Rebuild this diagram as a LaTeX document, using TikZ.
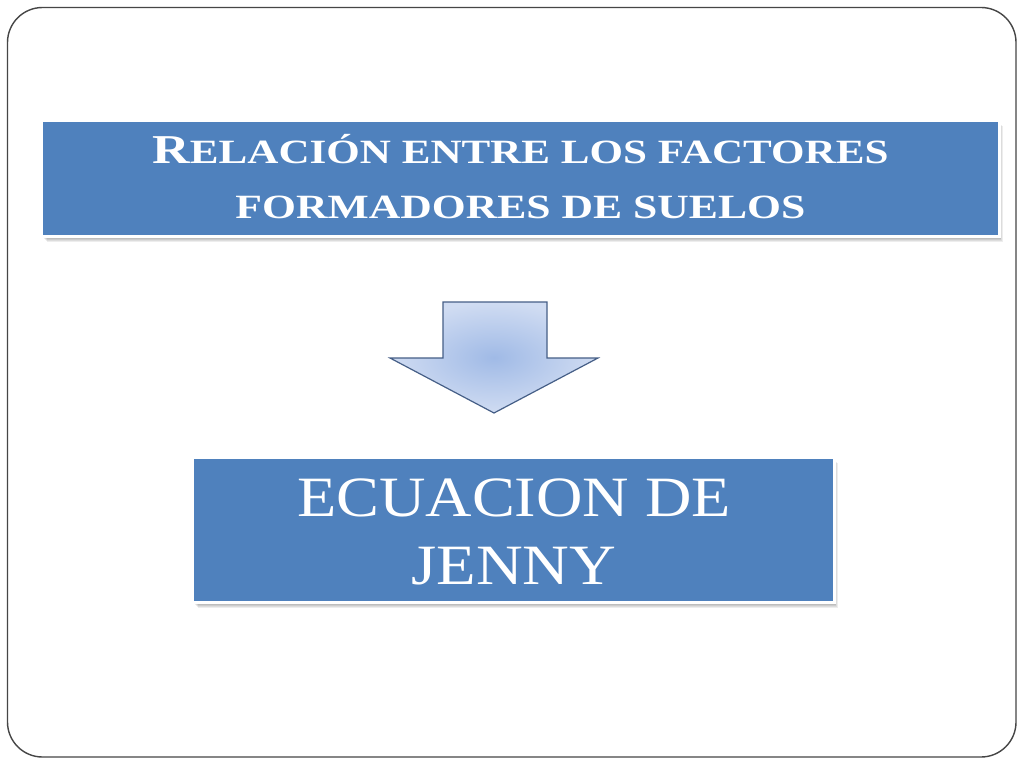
\documentclass[tikz,border=0pt]{standalone}
\usepackage{fontspec}
\setmainfont{Liberation Serif}
\usepackage{graphicx}
\definecolor{boxblue}{RGB}{79,129,189}
\definecolor{framegray}{RGB}{70,70,70}
\definecolor{arrowline}{RGB}{70,95,135}
\definecolor{arrowin}{RGB}{160,186,230}
\definecolor{arrowout}{RGB}{208,220,242}
\newcommand{\stretchto}[2]{\resizebox{#1}{\height}{#2}}
\tikzset{
  frame/.style={draw=framegray, line width=1.4pt, rounded corners=35pt},
  bluebox/.style={fill=boxblue, draw=white, line width=3pt},
  shadowbox/.style={fill=black, opacity=0.07},
  boxtext/.style={text=white, align=center, inner sep=0pt},
  downarrow/.style={draw=arrowline, line width=1.2pt, inner color=arrowin, outer color=arrowout}
}
\begin{document}
\begin{tikzpicture}[x=1pt,y=-1pt]
\useasboundingbox (0,0) rectangle (1024,768);
\fill[white] (0,0) rectangle (1024,768);
% outer frame
\draw[frame] (7.5,7.5) rectangle (1016,757);
% title box shadow
\foreach \d in {1,2,3,4,5}{
  \fill[shadowbox] (41.5+\d,120.5+\d) rectangle (999.5+\d*0.6,236.5+\d);
}
\draw[bluebox] (41.5,120.5) rectangle (999.5,236.5);
\node[boxtext, font=\bfseries] (title) at (520.5,177) {%
  \stretchto{736pt}{{\fontsize{41}{41}\selectfont R}{\fontsize{34}{34}\selectfont ELACIÓN ENTRE LOS FACTORES}}\\[31pt]
  \stretchto{570pt}{\fontsize{34}{34}\selectfont FORMADORES DE SUELOS}};
% arrow
\shade[downarrow] (443,302) -- (547,302) -- (547,358) -- (598,358) -- (494,413) -- (390,358) -- (443,358) -- cycle;
% lower box shadow
\foreach \d in {1,2,3,4,5}{
  \fill[shadowbox] (192.5+\d,457.5+\d) rectangle (834.5+\d*0.6,602.5+\d);
}
\draw[bluebox] (192.5,457.5) rectangle (834.5,602.5);
\node[boxtext] (jenny) at (514,532) {%
  \stretchto{434pt}{\fontsize{57}{57}\selectfont ECUACION DE}\\[29pt]
  \stretchto{205pt}{\fontsize{57}{57}\selectfont JENNY}};
\end{tikzpicture}
\end{document}
